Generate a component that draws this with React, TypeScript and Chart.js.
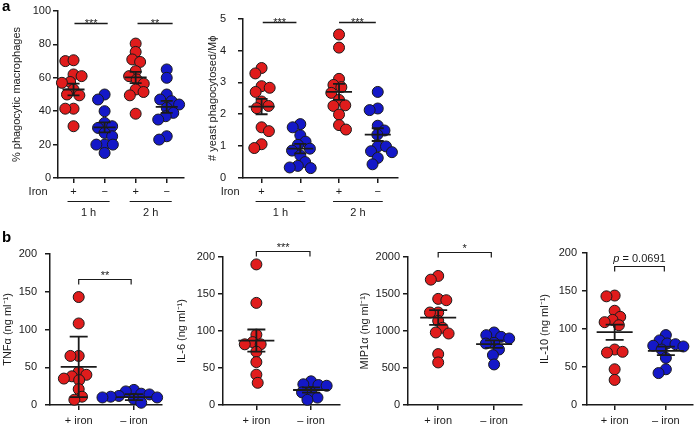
import React, { useEffect, useRef } from 'react';
import { Chart, registerables } from 'chart.js';

Chart.register(...registerables);

const FONT = "'Liberation Sans', Arial, Helvetica, sans-serif";
const INK = '#1a1a1a';
const RED = '#e01c1c';
const BLUE = '#1418c8';
const R = 5.5;

// ---------- tick / category labels ----------
const ironSignLabels = ['+', '−', '+', '−'];
const timeLabels = ['1 h', '2 h'];
const ironLabels = ['+ iron', '– iron'];

// ---------- panel a (left): % phagocytic macrophages ----------
const phago1hPlus = [70, 70.5, 62, 61, 57.5, 57, 53, 50, 49.5, 41.5, 41.5, 31];
const phago1hMinus = [50, 47, 40, 33, 31, 30, 27, 25, 20, 20, 20, 15];
const phago2hPlus = [80.5, 75.5, 71, 69.5, 64, 61, 59, 56.5, 53, 51.5, 49.5, 38.5];
const phago2hMinus = [65, 60, 50, 47, 46, 44, 42, 39, 37, 35, 25, 23];
const phagoMean = [53, 30.3, 60.2, 42.6];
const phagoSem = [3.5, 3.0, 3.4, 3.6];

// ---------- panel a (right): # yeast phagocytosed / Mϕ ----------
const yeast1hPlus = [3.45, 3.28, 2.88, 2.83, 2.7, 2.4, 2.26, 2.19, 1.59, 1.47, 1.06, 0.94];
const yeast1hMinus = [1.69, 1.59, 1.34, 1.14, 1.04, 0.92, 0.86, 0.71, 0.5, 0.38, 0.33, 0.31];
const yeast2hPlus = [4.5, 4.09, 3.11, 2.92, 2.85, 2.67, 2.45, 2.28, 2.26, 1.99, 1.66, 1.52];
const yeast2hMinus = [2.7, 2.18, 2.13, 1.64, 1.49, 1.36, 0.99, 0.99, 0.84, 0.81, 0.63, 0.43];
const yeastMean = [2.24, 0.92, 2.7, 1.36];
const yeastSem = [0.24, 0.15, 0.25, 0.2];

// ---------- panel b: cytokines ----------
const tnfPlus = [143, 108, 65, 65, 44, 40, 38, 35, 33, 21, 11, 7];
const tnfMinus = [20, 18, 15, 14, 12, 11, 10, 10, 8, 3];
const tnfMean = [50.5, 10.5];
const tnfErr = [40, 4];

const il6Plus = [190, 138, 95, 85, 82, 82, 72, 58, 41, 30];
const il6Minus = [32, 28, 27, 26, 17, 17, 10, 7];
const il6Mean = [87, 20.3];
const il6Err = [15, 3.5];

const mipPlus = [1744, 1694, 1434, 1416, 1250, 1250, 1137, 1043, 980, 966, 688, 575];
const mipMinus = [980, 944, 921, 899, 840, 831, 750, 674, 548];
const mipMean = [1182, 822];
const mipErr = [100, 50];

const il10Plus = [144, 143, 124, 116, 112, 109, 105, 73, 70, 69, 47, 33];
const il10Minus = [92, 85, 81, 80, 78, 77, 73, 62, 47, 42];
const il10Mean = [95.8, 71.2];
const il10Err = [10, 5.5];

type Bracket = { from: number; to: number; y: number; label: string; ends: boolean };
type Spec = {
  box: [number, number, number, number];
  axisW: number;
  padTop: number;
  padRight: number;
  xH: number;
  xRange: [number, number];
  yMax: number;
  yStep: number;
  tickPad: number;
  xTickPad: number;
  title: string;
  titlePad: number;
  ticks: string[];
  series: number[][];
  colors: string[];
  mean: number[];
  err: number[];
  meanHalf: number;
  capHalf: number;
  brackets: Bracket[];
  groups?: string[];
  rowLabel?: string;
  rowLabelGap?: number;
};

const specs: Spec[] = [
  {
    box: [0, 0, 190, 222], axisW: 58, padTop: 11, padRight: 4, xH: 44,
    xRange: [0.5, 4.54], yMax: 100, yStep: 20, tickPad: 2, xTickPad: 2,
    title: '% phagocytic macrophages', titlePad: 10,
    ticks: ironSignLabels,
    series: [phago1hPlus, phago1hMinus, phago2hPlus, phago2hMinus],
    colors: [RED, BLUE, RED, BLUE], mean: phagoMean, err: phagoSem,
    meanHalf: 11, capHalf: 6,
    brackets: [
      { from: 1.03, to: 2.1, y: 92.8, label: '***', ends: false },
      { from: 3.06, to: 4.19, y: 92.8, label: '**', ends: false },
    ],
    groups: timeLabels, rowLabel: 'Iron', rowLabelGap: 26,
  },
  {
    box: [190, 0, 214, 222], axisW: 53, padTop: 12, padRight: 4, xH: 44,
    xRange: [0.52, 4.51], yMax: 5, yStep: 1, tickPad: 12, xTickPad: 2,
    title: '# yeast phagocytosed/Mϕ', titlePad: 16,
    ticks: ironSignLabels,
    series: [yeast1hPlus, yeast1hMinus, yeast2hPlus, yeast2hMinus],
    colors: [RED, BLUE, RED, BLUE], mean: yeastMean, err: yeastSem,
    meanHalf: 13, capHalf: 6,
    brackets: [
      { from: 1.03, to: 1.9, y: 4.88, label: '***', ends: false },
      { from: 3.0, to: 3.95, y: 4.88, label: '***', ends: false },
    ],
    groups: timeLabels, rowLabel: 'Iron', rowLabelGap: 22,
  },
  {
    box: [0, 232, 168, 193], axisW: 50, padTop: 22, padRight: 5, xH: 20,
    xRange: [0.48, 2.5], yMax: 200, yStep: 50, tickPad: 8, xTickPad: 4,
    title: 'TNFα (ng ml⁻¹)', titlePad: 1.5,
    ticks: ironLabels, series: [tnfPlus, tnfMinus], colors: [RED, BLUE],
    mean: tnfMean, err: tnfErr, meanHalf: 18, capHalf: 9,
    brackets: [{ from: 1, to: 1.95, y: 167, label: '**', ends: true }],
  },
  {
    box: [168, 232, 178, 193], axisW: 55, padTop: 25, padRight: 4, xH: 20,
    xRange: [0.39, 2.52], yMax: 200, yStep: 50, tickPad: 3, xTickPad: 4,
    title: 'IL-6 (ng ml⁻¹)', titlePad: 7.5,
    ticks: ironLabels, series: [il6Plus, il6Minus], colors: [RED, BLUE],
    mean: il6Mean, err: il6Err, meanHalf: 18, capHalf: 9,
    brackets: [{ from: 1, to: 1.98, y: 208, label: '***', ends: true }],
  },
  {
    box: [346, 232, 182, 193], axisW: 62, padTop: 25, padRight: 4, xH: 20,
    xRange: [0.46, 2.49], yMax: 2000, yStep: 500, tickPad: 3, xTickPad: 4,
    title: 'MIP1α (ng ml⁻¹)', titlePad: 12.5,
    ticks: ironLabels, series: [mipPlus, mipMinus], colors: [RED, BLUE],
    mean: mipMean, err: mipErr, meanHalf: 18, capHalf: 9,
    brackets: [{ from: 1, to: 1.95, y: 2068, label: '*', ends: true }],
  },
  {
    box: [528, 232, 171, 193], axisW: 59, padTop: 21, padRight: 1, xH: 20,
    xRange: [0.46, 2.52], yMax: 200, yStep: 50, tickPad: 5, xTickPad: 4,
    title: 'IL-10 (ng ml⁻¹)', titlePad: 10.5,
    ticks: ironLabels, series: [il10Plus, il10Minus], colors: [RED, BLUE],
    mean: il10Mean, err: il10Err, meanHalf: 18, capHalf: 9,
    brackets: [{ from: 1, to: 1.97, y: 183, label: 'p = 0.0691', ends: true }],
  },
];

// simple deterministic beeswarm: nudge overlapping points sideways
function swarm(ys: number[], cx: number, d: number): number[] {
  const order = ys.map((_, i) => i).sort((a, b) => ys[a] - ys[b]);
  const placed: { x: number; y: number }[] = [];
  const xs: number[] = new Array(ys.length);
  let flip = 1;
  for (const i of order) {
    const y = ys[i];
    const cands = [cx];
    for (const p of placed) {
      const dy = Math.abs(p.y - y);
      if (dy < d) {
        const dx = Math.sqrt(d * d - dy * dy);
        cands.push(p.x - dx, p.x + dx);
      }
    }
    cands.sort((a, b) => {
      const da = Math.abs(a - cx), db = Math.abs(b - cx);
      if (Math.abs(da - db) < 0.01) return flip * (a - b);
      return da - db;
    });
    let best = cx;
    for (const c of cands) {
      if (placed.every((p) => (p.x - c) ** 2 + (p.y - y) ** 2 >= d * d - 0.05)) {
        best = c;
        break;
      }
    }
    if (best !== cx) flip = -flip;
    placed.push({ x: best, y });
    xs[i] = best;
  }
  return xs;
}

function overlay(spec: Spec) {
  return {
    id: 'overlay',
    afterDatasetsUpdate(chart: any) {
      const xs = chart.scales.x, ys = chart.scales.y;
      spec.series.forEach((vals, i) => {
        const meta = chart.getDatasetMeta(i);
        const cx = xs.getPixelForValue(i + 1);
        const py = vals.map((v) => ys.getPixelForValue(v));
        const px = swarm(py, cx, R * 1.5);
        meta.data.forEach((el: any, j: number) => {
          el.x = px[j];
        });
      });
    },
    afterDatasetsDraw(chart: any) {
      const ctx = chart.ctx as CanvasRenderingContext2D;
      const xs = chart.scales.x, ys = chart.scales.y;
      ctx.save();
      ctx.strokeStyle = INK;
      ctx.lineWidth = 1.8;
      spec.mean.forEach((m, i) => {
        const cx = xs.getPixelForValue(i + 1);
        const ym = ys.getPixelForValue(m);
        const yt = ys.getPixelForValue(m + spec.err[i]);
        const yb = ys.getPixelForValue(m - spec.err[i]);
        ctx.beginPath();
        ctx.moveTo(cx - spec.meanHalf, ym);
        ctx.lineTo(cx + spec.meanHalf, ym);
        ctx.moveTo(cx, yt);
        ctx.lineTo(cx, yb);
        ctx.moveTo(cx - spec.capHalf, yt);
        ctx.lineTo(cx + spec.capHalf, yt);
        ctx.moveTo(cx - spec.capHalf, yb);
        ctx.lineTo(cx + spec.capHalf, yb);
        ctx.stroke();
      });
      ctx.restore();
    },
    afterDraw(chart: any) {
      const ctx = chart.ctx as CanvasRenderingContext2D;
      const xs = chart.scales.x, ys = chart.scales.y;
      const area = chart.chartArea;
      ctx.save();
      ctx.strokeStyle = INK;
      ctx.fillStyle = INK;
      // significance brackets
      spec.brackets.forEach((b) => {
        const x1 = xs.getPixelForValue(b.from);
        const x2 = xs.getPixelForValue(b.to);
        const y = Math.round(ys.getPixelForValue(b.y)) + 0.5;
        ctx.lineWidth = b.ends ? 1.2 : 1.6;
        ctx.beginPath();
        if (b.ends) {
          ctx.moveTo(x1, y + 5);
          ctx.lineTo(x1, y);
          ctx.lineTo(x2, y);
          ctx.lineTo(x2, y + 5);
        } else {
          ctx.moveTo(x1, y);
          ctx.lineTo(x2, y);
        }
        ctx.stroke();
        const mid = (x1 + x2) / 2;
        ctx.textBaseline = 'alphabetic';
        if (b.label.startsWith('p')) {
          const rest = b.label.slice(1);
          ctx.font = `italic 11px ${FONT}`;
          const wp = ctx.measureText('p').width;
          ctx.font = `11px ${FONT}`;
          const wr = ctx.measureText(rest).width;
          const start = mid - (wp + wr) / 2;
          ctx.textAlign = 'left';
          ctx.font = `italic 11px ${FONT}`;
          ctx.fillText('p', start, y - 5);
          ctx.font = `11px ${FONT}`;
          ctx.fillText(rest, start + wp, y - 5);
        } else {
          ctx.font = `11px ${FONT}`;
          ctx.textAlign = 'center';
          ctx.fillText(b.label, mid, b.ends ? y - 1 : y + 3);
        }
      });
      // group labels under x axis (panel a)
      if (spec.groups) {
        ctx.font = `11px ${FONT}`;
        ctx.lineWidth = 1.2;
        spec.groups.forEach((g, k) => {
          const xa = xs.getPixelForValue(2 * k + 1) - 6;
          const xb = xs.getPixelForValue(2 * k + 2) + 5;
          const yl = area.bottom + 23.5;
          ctx.beginPath();
          ctx.moveTo(xa, yl);
          ctx.lineTo(xb, yl);
          ctx.stroke();
          ctx.textAlign = 'center';
          ctx.textBaseline = 'middle';
          ctx.fillText(g, (xa + xb) / 2, area.bottom + 35);
        });
      }
      if (spec.rowLabel) {
        ctx.font = `11px ${FONT}`;
        ctx.textAlign = 'right';
        ctx.textBaseline = 'middle';
        ctx.fillText(spec.rowLabel, xs.getPixelForValue(1) - (spec.rowLabelGap || 24), area.bottom + 14);
      }
      ctx.restore();
    },
  };
}

function Panel({ spec }: { spec: Spec }) {
  const ref = useRef<HTMLCanvasElement>(null);
  useEffect(() => {
    const font = { family: FONT, size: 11 };
    const chart = new Chart(ref.current as HTMLCanvasElement, {
      type: 'scatter',
      data: {
        datasets: spec.series.map((vals, i) => ({
          data: vals.map((v) => ({ x: i + 1, y: v })),
          backgroundColor: spec.colors[i],
          borderColor: INK,
          borderWidth: 1,
          pointRadius: R,
          pointHoverRadius: R,
          clip: false as any,
        })),
      },
      options: {
        responsive: false,
        animation: false,
        events: [],
        layout: { padding: { left: 0, top: spec.padTop, right: spec.padRight, bottom: 0 } },
        plugins: { legend: { display: false }, tooltip: { enabled: false } },
        scales: {
          x: {
            type: 'linear',
            min: spec.xRange[0],
            max: spec.xRange[1],
            afterBuildTicks: (s: any) => {
              s.ticks = spec.ticks.map((_, i) => ({ value: i + 1 }));
            },
            afterFit: (s: any) => {
              s.height = spec.xH;
            },
            ticks: {
              callback: (_v: any, i: number) => spec.ticks[i],
              font,
              color: INK,
              padding: spec.xTickPad,
              maxRotation: 0,
              minRotation: 0,
              autoSkip: false,
            },
            grid: { drawOnChartArea: false, drawTicks: true, tickLength: 5, color: INK, lineWidth: 1.5 },
            border: { display: true, color: INK, width: 1.5 },
          },
          y: {
            type: 'linear',
            min: 0,
            max: spec.yMax,
            afterFit: (s: any) => {
              s.width = spec.axisW;
            },
            ticks: {
              stepSize: spec.yStep,
              font,
              color: INK,
              padding: spec.tickPad,
              callback: (v: any) => String(v),
            },
            grid: { drawOnChartArea: false, drawTicks: true, tickLength: 5, color: INK, lineWidth: 1.5 },
            border: { display: true, color: INK, width: 1.5 },
            title: {
              display: true,
              text: spec.title,
              font,
              color: INK,
              padding: { top: spec.titlePad, bottom: 0 },
            },
          },
        },
      } as any,
      plugins: [overlay(spec)],
    });
    return () => chart.destroy();
  }, [spec]);
  const [l, t, w, h] = spec.box;
  return (
    <canvas
      ref={ref}
      width={w}
      height={h}
      style={{ position: 'absolute', left: l, top: t, width: w, height: h }}
    />
  );
}

const letterStyle: React.CSSProperties = {
  position: 'absolute',
  fontFamily: FONT,
  fontWeight: 'bold',
  fontSize: 15,
  lineHeight: '15px',
  color: '#000',
};

export default function App() {
  return (
    <div style={{ position: 'absolute', left: 0, top: 0, width: 699, height: 425, background: '#fff', overflow: 'hidden' }}>
      {specs.map((s, i) => (
        <Panel key={i} spec={s} />
      ))}
      <div style={{ ...letterStyle, left: 2, top: -2 }}>a</div>
      <div style={{ ...letterStyle, left: 2, top: 229 }}>b</div>
    </div>
  );
}
